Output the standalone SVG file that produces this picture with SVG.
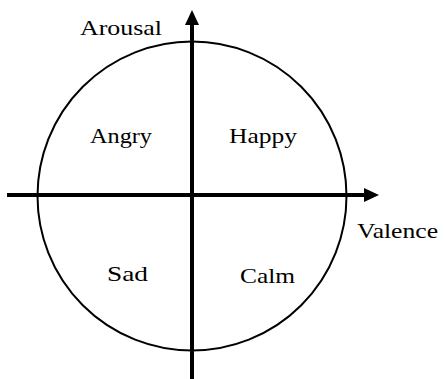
<svg xmlns="http://www.w3.org/2000/svg" width="444" height="379" viewBox="0 0 444 379">
<defs>
<style>
.lbl{font-family:"Liberation Serif","Times New Roman",Times,"DejaVu Serif",serif;font-size:21px;fill:#000}
.axis{stroke:#000;stroke-width:4;fill:none}
</style>
<marker id="ah" markerUnits="userSpaceOnUse" markerWidth="16" markerHeight="16" refX="2" refY="8" orient="auto">
<path d="M0,1 L15,8 L0,15 Z" fill="#000"/>
</marker>
</defs>
<g id="circle"><circle cx="192" cy="196" r="154.5" fill="none" stroke="#000" stroke-width="2"/></g>
<g id="connectors">
<line class="axis" x1="7" y1="195" x2="366" y2="195" marker-end="url(#ah)"/>
<line class="axis" x1="192" y1="379" x2="192" y2="23" marker-end="url(#ah)"/>
</g>
<g id="arousal"><text class="lbl" font-family="Liberation Serif" x="80" y="35" textLength="82" lengthAdjust="spacingAndGlyphs">Arousal</text></g>
<g id="valence"><text class="lbl" font-family="Liberation Serif" x="357" y="238" textLength="81" lengthAdjust="spacingAndGlyphs">Valence</text></g>
<g id="angry"><text class="lbl" font-family="Liberation Serif" x="90" y="143" textLength="62" lengthAdjust="spacingAndGlyphs">Angry</text></g>
<g id="happy"><text class="lbl" font-family="Liberation Serif" x="229" y="143" textLength="68" lengthAdjust="spacingAndGlyphs">Happy</text></g>
<g id="sad"><text class="lbl" font-family="Liberation Serif" x="107" y="281" textLength="41" lengthAdjust="spacingAndGlyphs">Sad</text></g>
<g id="calm"><text class="lbl" font-family="Liberation Serif" x="240" y="283" textLength="55" lengthAdjust="spacingAndGlyphs">Calm</text></g>
</svg>
